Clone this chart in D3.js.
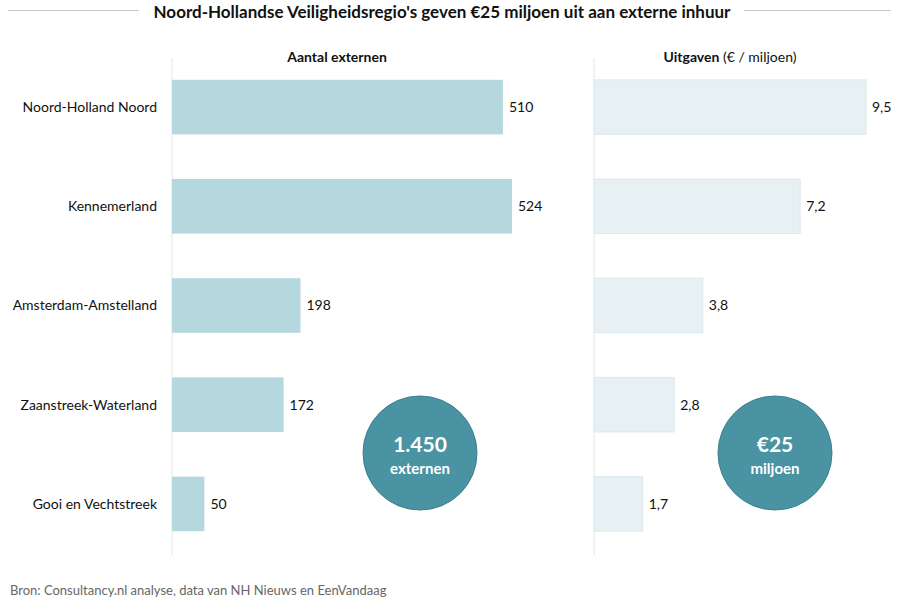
<!DOCTYPE html>
<html>
<head>
<meta charset="utf-8">
<script src="https://cdn.jsdelivr.net/npm/d3@7"></script>
<style>
  body { margin: 0; background: #fff; }
  svg { display: block; font-family: Lato, "Open Sans", sans-serif; }
</style>
</head>
<body>
<svg id="chart" width="900" height="604"></svg>
<script>

// Data
const regions = ["Noord-Holland Noord", "Kennemerland", "Amsterdam-Amstelland", "Zaanstreek-Waterland", "Gooi en Vechtstreek"];
const externen = [510, 524, 198, 172, 50];
const uitgaven = [9.5, 7.2, 3.8, 2.8, 1.7];
const totals = ["1.450", "€25"];
const totalLabels = ["externen", "miljoen"];

const svg = d3.select("#chart");

// Title with side rules
svg.append("line").attr("x1", 8).attr("x2", 139).attr("y1", 10.5).attr("y2", 10.5)
    .attr("stroke", "#c8c8c8").attr("stroke-width", 1);
svg.append("line").attr("x1", 744).attr("x2", 891).attr("y1", 10.5).attr("y2", 10.5)
    .attr("stroke", "#c8c8c8").attr("stroke-width", 1);
svg.append("text")
    .attr("x", 442).attr("y", 18)
    .attr("text-anchor", "middle")
    .attr("font-size", 17).attr("font-weight", "bold").attr("fill", "#111")
    .text("Noord-Hollandse Veiligheidsregio's geven €25 miljoen uit aan externe inhuur");

// Shared row scale
const y = d3.scaleBand()
    .domain(regions)
    .range([58, 553])
    .paddingInner(0.45)
    .paddingOuter(0.22);

// Left panel: number of externals
const xLeft = d3.scaleLinear().domain([0, 524]).range([172, 512]);
// Right panel: spend
const xRight = d3.scaleLinear().domain([0, 9.5]).range([594, 866]);

// Category labels
svg.append("g")
    .selectAll("text")
    .data(regions)
    .enter()
    .append("text")
    .attr("x", 157)
    .attr("y", (d) => y(d) + y.bandwidth() / 2)
    .attr("dy", "0.35em")
    .attr("text-anchor", "end")
    .attr("font-size", 14).attr("fill", "#111")
    .text((d) => d);

/** Draw one bar panel */
function drawPanel(values, x, fill, stroke, fmt) {
    const g = svg.append("g");

    // Axis rule
    g.append("line")
        .attr("x1", x(0)).attr("x2", x(0))
        .attr("y1", 58).attr("y2", 555)
        .attr("stroke", "#e6e6e6");

    g.selectAll("rect")
        .data(values)
        .enter()
        .append("rect")
        .attr("x", x(0))
        .attr("y", (d, i) => y(regions[i]))
        .attr("width", (d) => x(d) - x(0))
        .attr("height", y.bandwidth())
        .attr("fill", fill)
        .attr("stroke", stroke);

    g.selectAll("text.value")
        .data(values)
        .enter()
        .append("text")
        .classed("value", true)
        .attr("x", (d) => x(d) + 6)
        .attr("y", (d, i) => y(regions[i]) + y.bandwidth() / 2)
        .attr("dy", "0.35em")
        .attr("font-size", 14).attr("fill", "#111")
        .text(fmt);
}

drawPanel(externen, xLeft, "#b5d8df", "none", (d) => d);
drawPanel(uitgaven, xRight, "#e7f1f3", "#dde9ec", (d) => String(d).replace(".", ","));

// Panel headers
svg.append("text")
    .attr("x", 337).attr("y", 62)
    .attr("text-anchor", "middle")
    .attr("font-size", 14).attr("font-weight", "bold").attr("fill", "#111")
    .text("Aantal externen");
const head = svg.append("text")
    .attr("x", 730).attr("y", 62)
    .attr("text-anchor", "middle")
    .attr("font-size", 14).attr("fill", "#111");
head.append("tspan").attr("font-weight", "bold").text("Uitgaven");
head.append("tspan").text(" (€ / miljoen)");

// Total circles
const circleX = [420, 775];
circleX.forEach((cx, i) => {
    svg.append("circle")
        .attr("cx", cx).attr("cy", 453).attr("r", 57)
        .attr("fill", "#4a93a3")
        .attr("stroke", "#3d7f8e").attr("stroke-width", 1);
    svg.append("text")
        .attr("x", cx).attr("y", 452)
        .attr("text-anchor", "middle")
        .attr("font-size", 21).attr("font-weight", "bold").attr("fill", "#fff")
        .text(totals[i]);
    svg.append("text")
        .attr("x", cx).attr("y", 474)
        .attr("text-anchor", "middle")
        .attr("font-size", 15).attr("font-weight", "bold").attr("fill", "#fff")
        .text(totalLabels[i]);
});

// Source
svg.append("text")
    .attr("x", 10).attr("y", 595)
    .attr("font-size", 13).attr("fill", "#666")
    .text("Bron: Consultancy.nl analyse, data van NH Nieuws en EenVandaag");
</script>
</body>
</html>
